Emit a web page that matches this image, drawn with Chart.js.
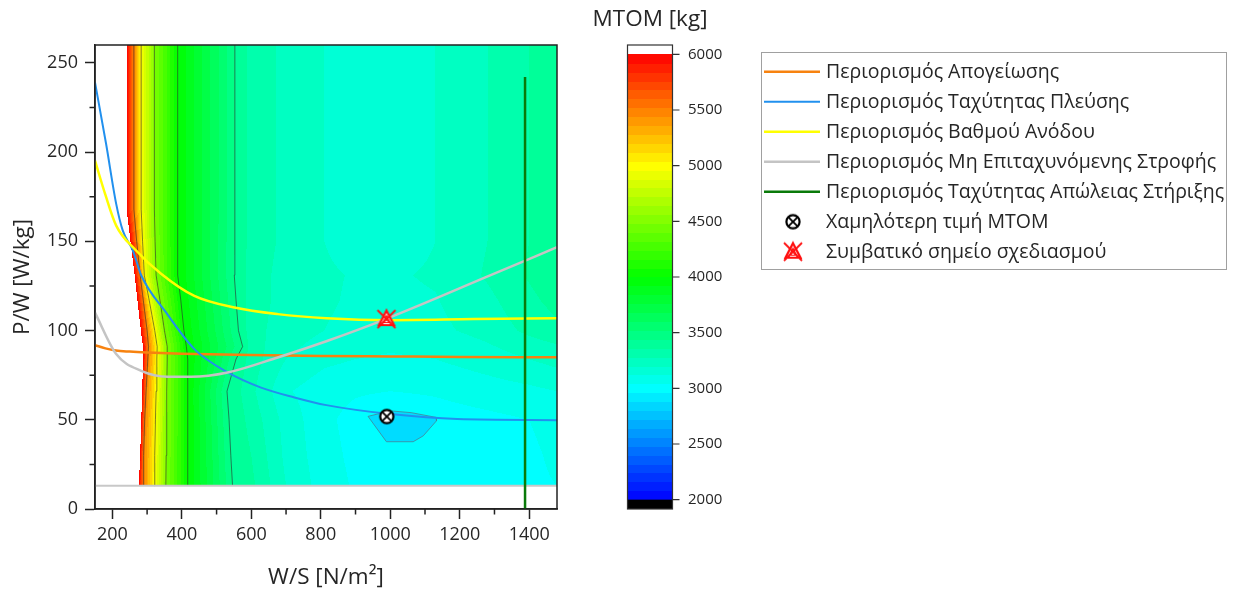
<!DOCTYPE html>
<html><head><meta charset="utf-8">
<script src="https://cdn.jsdelivr.net/npm/chart.js@4.4.1/dist/chart.umd.min.js"></script>
<style>html,body{margin:0;padding:0;background:#fff;}canvas{display:block}</style>
</head><body>
<canvas id="c" width="1235" height="592"></canvas>
<script>
// ---------------- DATA ----------------
const wsTicks = [200, 400, 600, 800, 1000, 1200, 1400];
const wsMinorTicks = [300, 500, 700, 900, 1100, 1300];
const pwTicks = [0, 50, 100, 150, 200, 250];
const pwMinorTicks = [25, 75, 125, 175, 225];
const cbTicks = [2000, 2500, 3000, 3500, 4000, 4500, 5000, 5500, 6000];

// Constraint curves (W/S [N/m2], P/W [W/kg])
const takeoffWS = [150, 180, 210, 250, 300, 400, 600, 800, 1000, 1200, 1480];
const takeoffPW = [91.8, 90.0, 88.8, 88.2, 87.7, 87.0, 86.3, 85.8, 85.5, 85.2, 85.0];
const cruiseWS = [150, 182, 211, 230, 259, 283, 355, 436, 532, 628, 724, 816, 1000, 1193, 1480];
const cruisePW = [239, 204.5, 171, 156, 144.8, 131, 110, 89.6, 76.5, 68, 62.5, 58.2, 53.2, 50.4, 49.8];
const climbWS = [150, 180, 211, 264, 341, 436, 551, 676, 816, 1000, 1240, 1480];
const climbPW = [195.2, 176, 158.8, 145.7, 131.7, 119.4, 112.9, 109.2, 106.9, 105.8, 106.4, 106.9];
const turnWS = [150, 211, 283, 359, 427, 532, 676, 816, 987, 1289, 1480];
const turnPW = [110, 86.8, 77.4, 74.1, 74.1, 76.5, 84.9, 94.0, 106.4, 131, 146.7];
const stallWS = [1388, 1388];
const stallPW = [0, 242];

// Points
const minMtomWS = [990];
const minMtomPW = [51.8];
const designWS = [989];
const designPW = [106.4];

// Lowest-MTOM contour region
const minRegionWS = [936, 1000, 1060, 1133, 1133, 1095, 1066, 989, 936];
const minRegionPW = [51.9, 55, 54, 51.3, 49.4, 41, 37.7, 37.7, 51.9];

// Lower limit of the MTOM field
const fieldFloorWS = [150, 1480];
const fieldFloorPW = [13, 13];

// MTOM field [kg]: per P/W row, W/S position of each contour level
const pwRows = [13, 30, 50, 66, 84, 91, 100, 117, 131, 150, 168, 260];
const isoLevels = [6000, 5500, 5000, 4500, 4000, 3440];
const isoWS = [
  [276, 290, 320, 354, 417, 546],
  [280, 290, 322, 355, 417, 541],
  [283, 293, 324, 356, 417, 536],
  [286, 297, 326, 357, 417, 530],
  [288, 302, 328, 358, 417, 556],
  [288, 304, 329, 358, 413, 575],
  [282, 300, 322, 350, 406, 563],
  [272, 289, 306, 337, 397, 556],
  [264, 280, 292, 326, 388, 551],
  [252, 270, 287, 323, 388, 552],
  [241, 262, 283, 321, 388, 553],
  [241, 262, 283, 321, 388, 553]
];
// MTOM values on the right part of the field, same rows
const rightWS = [600, 700, 810, 900, 1000, 1130, 1280, 1400, 1480];
const rightMTOM = [
  [3380, 3200, 3080, 3030, 3010, 3010, 3010, 3030, 3040],
  [3360, 3180, 3070, 3020, 3000, 3000, 3020, 3030, 3050],
  [3330, 3170, 3060, 3010, 2970, 3000, 3020, 3040, 3060],
  [3300, 3130, 3070, 3050, 3040, 3050, 3080, 3100, 3120],
  [3320, 3200, 3140, 3120, 3110, 3120, 3160, 3200, 3230],
  [3320, 3220, 3170, 3140, 3130, 3140, 3190, 3240, 3270],
  [3310, 3240, 3200, 3180, 3170, 3180, 3230, 3300, 3340],
  [3320, 3250, 3210, 3190, 3180, 3195, 3260, 3340, 3390],
  [3320, 3250, 3210, 3195, 3190, 3210, 3290, 3370, 3420],
  [3330, 3260, 3200, 3170, 3160, 3200, 3280, 3360, 3420],
  [3330, 3260, 3200, 3170, 3160, 3200, 3280, 3360, 3420],
  [3330, 3260, 3200, 3170, 3160, 3200, 3280, 3360, 3420]
];

// ---------------- STYLE / HELPERS ----------------
const FONT = "'Open Sans', 'DejaVu Sans', sans-serif";
const TXT = '#262626';
const COL = {orange: '#f7820f', blue: '#2190ee', yellow: '#ffff00', gray: '#c4c4c4', green: '#0a7a0a'};
const cmapStops = [[2000, [0, 0, 255]], [3000, [0, 255, 255]], [4000, [0, 255, 0]], [5000, [255, 255, 0]], [6000, [255, 0, 0]]];
const BAND = 80, CB_MIN = 2000, CB_MAX = 6000;

function cmap(v) {
  if (v <= cmapStops[0][0]) return cmapStops[0][1];
  for (let i = 0; i < cmapStops.length - 1; i++) {
    const [a, ca] = cmapStops[i], [b, cb] = cmapStops[i + 1];
    if (v <= b) { const t = (v - a) / (b - a); return ca.map((c, k) => Math.round(c + (cb[k] - c) * t)); }
  }
  return cmapStops[cmapStops.length - 1][1];
}
function bandColor(m) {
  if (m < CB_MIN) return [0, 0, 0];
  const idx = Math.floor((m - CB_MIN) / BAND);
  return cmap(CB_MIN + BAND * idx + BAND / 2);
}
const pts = (xs, ys) => xs.map((x, i) => ({x, y: ys[i]}));

function makeBlackMarker() {
  const c = document.createElement('canvas'); c.width = 18; c.height = 18;
  const g = c.getContext('2d');
  g.lineWidth = 2.2; g.strokeStyle = '#000'; g.fillStyle = '#fff';
  g.beginPath(); g.arc(9, 9, 6.6, 0, Math.PI * 2); g.fill(); g.stroke();
  g.lineWidth = 1.8; g.beginPath();
  g.moveTo(4.6, 4.6); g.lineTo(13.4, 13.4); g.moveTo(13.4, 4.6); g.lineTo(4.6, 13.4); g.stroke();
  return c;
}
function makeRedMarker() {
  const c = document.createElement('canvas'); c.width = 24; c.height = 24;
  const g = c.getContext('2d');
  g.strokeStyle = '#ff1010'; g.fillStyle = '#fff'; g.lineWidth = 2.2;
  g.beginPath(); g.moveTo(12, 3.5); g.lineTo(19.5, 18); g.lineTo(4.5, 18); g.closePath(); g.fill(); g.stroke();
  g.lineWidth = 1.2; g.beginPath(); g.moveTo(12, 8.5); g.lineTo(15.5, 15.5); g.lineTo(8.5, 15.5); g.closePath(); g.stroke();
  g.lineWidth = 1.8; g.beginPath();
  g.moveTo(3, 3); g.lineTo(21, 21); g.moveTo(21, 3); g.lineTo(3, 21); g.stroke();
  return c;
}
const blackMarker = makeBlackMarker();
const redMarker = makeRedMarker();

const lineDs = (label, xs, ys, color, w, smooth) => ({
  label, data: pts(xs, ys), showLine: true, borderColor: color, backgroundColor: color,
  borderWidth: w, pointRadius: 0, fill: false, xAxisID: 'x', yAxisID: 'y',
  cubicInterpolationMode: smooth ? 'monotone' : 'default', tension: 0, inLegend: true
});

// contour line datasets built from the field table
const contourDatasets = [1, 2, 3, 4, 5].map(k => ({
  label: 'contour ' + isoLevels[k],
  data: pwRows.map((pw, r) => ({x: isoWS[r][k], y: pw})),
  showLine: true, borderColor: 'rgba(45,45,45,0.6)', borderWidth: 1, pointRadius: 0,
  tension: 0, fill: false, xAxisID: 'x', yAxisID: 'y'
}));

const datasets = [
  {label: 'Χαμηλότερη τιμή MTOM', data: pts(minMtomWS, minMtomPW), pointStyle: blackMarker, pointRadius: 9,
   showLine: false, xAxisID: 'x', yAxisID: 'y', inLegend: true, marker: blackMarker},
  {label: 'Συμβατικό σημείο σχεδιασμού', data: pts(designWS, designPW), pointStyle: redMarker, pointRadius: 12,
   showLine: false, xAxisID: 'x', yAxisID: 'y', inLegend: true, marker: redMarker},
  lineDs('Περιορισμός Ταχύτητας Απώλειας Στήριξης', stallWS, stallPW, COL.green, 2.5, false),
  lineDs('Περιορισμός Μη Επιταχυνόμενης Στροφής', turnWS, turnPW, COL.gray, 2.5, true),
  lineDs('Περιορισμός Βαθμού Ανόδου', climbWS, climbPW, COL.yellow, 2.5, true),
  lineDs('Περιορισμός Ταχύτητας Πλεύσης', cruiseWS, cruisePW, COL.blue, 2, true),
  lineDs('Περιορισμός Απογείωσης', takeoffWS, takeoffPW, COL.orange, 2.5, true),
  {label: 'min region', data: pts(minRegionWS, minRegionPW), showLine: true, fill: 'shape',
   backgroundColor: 'rgb(0,220,255)', borderColor: 'rgba(70,130,150,0.8)', borderWidth: 1,
   pointRadius: 0, tension: 0, xAxisID: 'x', yAxisID: 'y'},
  {label: 'field floor', data: pts(fieldFloorWS, fieldFloorPW), showLine: true, borderColor: '#c8c8c8',
   borderWidth: 2, pointRadius: 0, tension: 0, fill: false, xAxisID: 'x', yAxisID: 'y'},
  ...contourDatasets
];
const legendOrder = [6, 5, 4, 3, 2, 0, 1];

// ---------------- PLUGINS ----------------
const fieldPlugin = {
  id: 'mtomField',
  beforeDatasetsDraw(chart) {
    const {ctx, chartArea: a, scales} = chart;
    const xs = scales.x, ys = scales.y;
    const L = Math.floor(a.left), T = Math.floor(a.top);
    const W = Math.ceil(a.right) - L, H = Math.ceil(a.bottom) - T;
    const off = document.createElement('canvas'); off.width = W; off.height = H;
    const octx = off.getContext('2d');
    const img = octx.createImageData(W, H);
    const wsAt = new Float64Array(W);
    for (let c = 0; c < W; c++) wsAt[c] = xs.getValueForPixel(L + c + 0.5);
    const rowX = pwRows.map((_, r) => [150, isoWS[r][0] - 6, ...isoWS[r], ...rightWS]);
    const rowM = pwRows.map((_, r) => [6600, 6600, ...isoLevels, ...rightMTOM[r]]);
    const lastPW = pwRows[pwRows.length - 1];
    for (let j = 0; j < H; j++) {
      const pw = ys.getValueForPixel(T + j + 0.5);
      if (pw < pwRows[0] || pw > lastPW) continue;
      let r = 0; while (r < pwRows.length - 2 && pw > pwRows[r + 1]) r++;
      const t = (pw - pwRows[r]) / (pwRows[r + 1] - pwRows[r]);
      const kx = rowX[r].map((v, i) => v + (rowX[r + 1][i] - v) * t);
      const km = rowM[r].map((v, i) => v + (rowM[r + 1][i] - v) * t);
      let k = 0;
      for (let c = 0; c < W; c++) {
        const ws = wsAt[c];
        while (k < kx.length - 2 && ws > kx[k + 1]) k++;
        let m;
        if (ws <= kx[0]) m = km[0];
        else if (ws >= kx[kx.length - 1]) m = km[km.length - 1];
        else { const u = (ws - kx[k]) / (kx[k + 1] - kx[k]); m = km[k] + (km[k + 1] - km[k]) * u; }
        if (m >= CB_MAX) continue;
        const col = bandColor(m);
        const p = (j * W + c) * 4;
        img.data[p] = col[0]; img.data[p + 1] = col[1]; img.data[p + 2] = col[2]; img.data[p + 3] = 255;
      }
    }
    octx.putImageData(img, 0, 0);
    ctx.save();
    ctx.beginPath(); ctx.rect(a.left, a.top, a.right - a.left, a.bottom - a.top); ctx.clip();
    ctx.drawImage(off, L, T);
    ctx.restore();
  }
};

const decorPlugin = {
  id: 'decor',
  afterDraw(chart) {
    const {ctx, chartArea: a, scales} = chart;
    const xs = scales.x, ys = scales.y, cb = scales.cb;
    ctx.save();
    // frame
    ctx.strokeStyle = '#222'; ctx.lineWidth = 1.5;
    ctx.strokeRect(a.left, a.top, a.right - a.left, a.bottom - a.top);
    // minor ticks
    ctx.beginPath();
    wsMinorTicks.forEach(v => { const p = xs.getPixelForValue(v); ctx.moveTo(p, a.bottom); ctx.lineTo(p, a.bottom + 5.5); });
    pwMinorTicks.forEach(v => { const p = ys.getPixelForValue(v); ctx.moveTo(a.left, p); ctx.lineTo(a.left - 5.5, p); });
    ctx.stroke();

    // ----- colour bar -----
    const x0 = 627.5, x1 = 672.5;
    for (let v = CB_MIN; v < CB_MAX; v += BAND) {
      const ya = cb.getPixelForValue(v + BAND), yb = cb.getPixelForValue(v);
      const c = cmap(v + BAND / 2);
      ctx.fillStyle = `rgb(${c[0]},${c[1]},${c[2]})`;
      ctx.fillRect(x0, Math.floor(ya), x1 - x0, Math.ceil(yb) - Math.floor(ya));
    }
    ctx.fillStyle = '#000';
    const yMin = cb.getPixelForValue(cb.min), y2000 = cb.getPixelForValue(CB_MIN);
    ctx.fillRect(x0, y2000, x1 - x0, yMin - y2000);
    ctx.strokeStyle = '#333'; ctx.lineWidth = 1.2;
    const yTop = cb.getPixelForValue(cb.max);
    ctx.strokeRect(x0, yTop, x1 - x0, yMin - yTop);
    ctx.beginPath();
    cbTicks.forEach(v => { const p = cb.getPixelForValue(v); ctx.moveTo(x1, p); ctx.lineTo(x1 + 7, p); });
    ctx.stroke();
    ctx.fillStyle = TXT; ctx.font = `15px ${FONT}`; ctx.textAlign = 'left'; ctx.textBaseline = 'middle';
    cbTicks.forEach(v => ctx.fillText(String(v), 688, cb.getPixelForValue(v)));
    ctx.font = `22.5px ${FONT}`; ctx.textAlign = 'center';
    ctx.fillText('MTOM [kg]', 650, 20);

    // ----- legend -----
    const lx = 761.5, ly = 52.5, lw = 465, lh = 217;
    ctx.fillStyle = '#fff'; ctx.fillRect(lx, ly, lw, lh);
    ctx.strokeStyle = '#a0a0a0'; ctx.lineWidth = 1; ctx.strokeRect(lx, ly, lw, lh);
    ctx.font = `19.5px ${FONT}`; ctx.textAlign = 'left'; ctx.textBaseline = 'middle';
    legendOrder.forEach((di, i) => {
      const ds = chart.data.datasets[di];
      const y = 71.7 + i * 30;
      if (ds.marker) {
        ctx.drawImage(ds.marker, 793 - ds.marker.width / 2, y - ds.marker.height / 2);
      } else {
        ctx.strokeStyle = ds.borderColor; ctx.lineWidth = ds.borderWidth;
        ctx.beginPath(); ctx.moveTo(764, y); ctx.lineTo(820, y); ctx.stroke();
      }
      ctx.fillStyle = TXT;
      ctx.fillText(ds.label, 826, y + 1);
    });
    ctx.restore();
  }
};

// ---------------- CHART ----------------
Chart.defaults.font.family = FONT;
Chart.defaults.color = TXT;

new Chart(document.getElementById('c'), {
  type: 'scatter',
  data: {datasets},
  options: {
    responsive: false, animation: false, devicePixelRatio: 1,
    layout: {padding: {left: 0, top: 45, right: 678, bottom: 0}},
    plugins: {legend: {display: false}, tooltip: {enabled: false}},
    scales: {
      x: {
        type: 'linear', position: 'bottom', min: 150, max: 1480,
        afterBuildTicks: s => { s.ticks = wsTicks.map(v => ({value: v})); },
        afterFit: s => { s.height = 83; },
        ticks: {font: {size: 18}, color: TXT, padding: 5, callback: v => String(v), maxRotation: 0},
        grid: {drawOnChartArea: false, drawTicks: true, tickLength: 10, tickColor: '#222', tickWidth: 1.5},
        border: {display: true, color: '#222', width: 1.5},
        title: {display: true, text: 'W/S [N/m²]', font: {size: 22.5}, color: TXT, padding: {top: 0, bottom: 1}}
      },
      y: {
        type: 'linear', position: 'left', min: 0, max: 260,
        afterBuildTicks: s => { s.ticks = pwTicks.map(v => ({value: v})); },
        afterFit: s => { s.width = 95; },
        ticks: {font: {size: 18}, color: TXT, padding: 7, callback: v => String(v)},
        grid: {drawOnChartArea: false, drawTicks: true, tickLength: 10, tickColor: '#222', tickWidth: 1.5},
        border: {display: true, color: '#222', width: 1.5},
        title: {display: true, text: 'P/W [W/kg]', font: {size: 22.5}, color: TXT, padding: {top: 9, bottom: 0}}
      },
      cb: {
        type: 'linear', axis: 'y', position: 'right', display: false,
        min: 1916, max: 6084
      }
    }
  },
  plugins: [fieldPlugin, decorPlugin]
});
</script>
</body></html>
